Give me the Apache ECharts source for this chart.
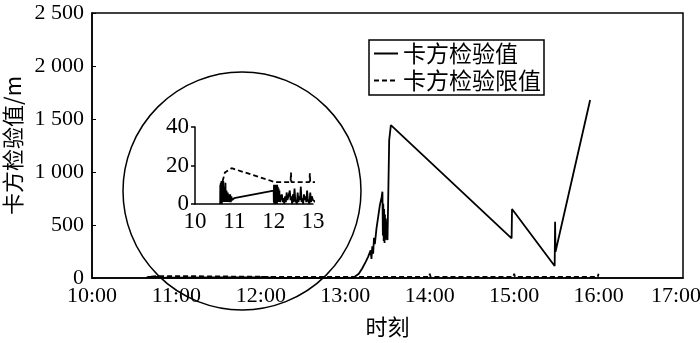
<!DOCTYPE html>
<html><head><meta charset="utf-8">
<script src="https://cdn.jsdelivr.net/npm/echarts@6/dist/echarts.min.js"></script>
<style>html,body{margin:0;padding:0;background:#fff}#c{width:700px;height:343px}</style>
</head><body><div id="c"></div>
<script>
const seriesNames = ['卡方检验值', '卡方检验限值'];
const xAxisName = '时刻';
const yAxisName = '卡方检验值/m';
const mainXLabels = ['10:00','11:00','12:00','13:00','14:00','15:00','16:00','17:00'];
const mainYLabels = ['0','500','1 000','1 500','2 000','2 500'];
const insetXLabels = ['10','11','12','13'];
const insetYLabels = ['0','20','40'];

// times in decimal hours
// segment 1: 10:38 - 11:00 burst
const seg1Hours = [10.640,10.643,10.646,10.649,10.652,10.655,10.658,10.661,10.664,10.667,10.670,10.673,10.676,10.679,10.682,10.685,10.688,10.691,10.694,10.697,
  10.700,10.704,10.708,10.712,10.716,10.720,10.725,10.730,10.735,10.740,10.745,10.750,10.756,10.762,10.768,10.774,10.780,10.787,10.794,10.801,
  10.808,10.816,10.824,10.832,10.840,10.850,10.860,10.870,10.880,10.895,10.910,10.925,10.940,10.960,10.980,10.995];
const seg1Values = [0,10,1,9,0,11,2,8,1,10,3,12,2,7,0,9,2,6,1,11,
  3,8,1,10,2,12,3,7,1,6,2,9,1,5,2,11,3,6,1,7,
  2,5,1,6,2,5,1,4,2,5,1,4,2,3,1,3];
// segment 2: 12:00 - 12:10 burst
const seg2Hours = [12.000,12.004,12.008,12.012,12.016,12.020,12.024,12.028,12.032,12.036,12.040,12.044,12.048,12.052,12.056,12.060,12.064,12.068,12.072,12.076,
  12.080,12.084,12.088,12.092,12.096,12.100,12.105,12.110,12.115,12.120,12.125,12.130,12.135,12.140,12.145,12.150,12.155,12.160];
const seg2Values = [7,1,10,0,9,2,10,1,8,0,10,2,9,1,10,0,8,2,10,1,
  9,0,10,3,8,1,9,2,7,1,8,2,6,1,7,2,5,1];
// segment 3: 12:10 - 13:07 low values
const seg3Hours = [12.19,12.21,12.23,12.25,12.27,12.29,12.31,12.33,12.35,12.37,12.39,12.41,12.43,12.45,12.47,12.49,12.51,12.53,12.55,12.57,12.59,
  12.61,12.63,12.65,12.67,12.69,12.71,12.73,12.75,12.77,12.79,12.81,12.83,12.85,12.87,12.89,12.91,12.93,12.95,12.97,
  13.00,13.03,13.06,13.10,13.12];
const seg3Values = [2,5,1,3,0,4,1,6,2,3,1,7,2,4,0,5,1,8,2,3,0,
  6,1,4,2,9,1,3,0,5,2,4,1,7,2,3,0,6,1,4,
  2,3,1,5,12];
// segment 4: 13:07 - 16:00 main rise and fall
const seg4Hours = [13.16,13.20,13.24,13.27,13.30,13.31,13.32,13.33,13.34,13.35,13.37,13.39,13.41,13.43,13.44,
  13.445,13.45,13.455,13.46,13.465,13.47,13.475,13.48,13.49,13.50,13.52,13.54,
  14.97,14.975,15.48,15.485,15.49,15.90];
const seg4Values = [40,90,150,200,260,180,300,230,380,320,470,580,690,760,814,
  400,700,350,650,330,600,360,560,380,358,1302,1443,
  374,651,113,531,248,1679];

const limitHours = [10.70,10.76,10.93,12.03,12.43,12.44,12.45,12.91,12.92,12.93,13.99,14.00,14.01,14.99,15.00,15.01,15.99,16.00];
const limitValues = [11.7,16.4,18.6,11.4,11.4,16.4,11.4,11.4,16.0,11.4,11.4,40,11.4,11.4,40,11.4,11.4,40];

const solidHours = [].concat(seg1Hours, seg2Hours, seg3Hours, seg4Hours);
const solidValues = [].concat(seg1Values, seg2Values, seg3Values, seg4Values);
const solidData = solidHours.map((h, i) => [h, solidValues[i]]);
const limitData = limitHours.map((h, i) => [h, limitValues[i]]);

const serif = 'Liberation Serif';
const cjk = 'Noto Sans CJK SC';
const chart = echarts.init(document.getElementById('c'));
const solidStyle = { color: '#000', width: 1.8, type: 'solid' };
const dashStyle = { color: '#000', width: 1.8, type: [5, 3] };

chart.setOption({
  animation: false,
  backgroundColor: '#fff',
  legend: {
    data: seriesNames,
    orient: 'vertical',
    left: 369, top: 40,
    padding: [2, 3, 3, 4],
    itemGap: 4,
    itemWidth: 24, itemHeight: 10,
    borderColor: '#000', borderWidth: 1.5,
    itemStyle: { opacity: 0 },
    textStyle: { fontFamily: cjk, fontSize: 23, color: '#000' }
  },
  grid: [
    { left: 92, right: 17, top: 13, bottom: 65, show: true, borderColor: '#000', borderWidth: 1.5, backgroundColor: 'transparent', containLabel: false, outerBoundsMode: 'none' },
    { left: 195, width: 118, top: 127, height: 77, containLabel: false, outerBoundsMode: 'none' }
  ],
  xAxis: [
    {
      gridIndex: 0, type: 'value', min: 10, max: 17, interval: 1,
      name: xAxisName, nameLocation: 'middle', nameGap: 38,
      nameTextStyle: { fontFamily: cjk, fontSize: 22, color: '#000' },
      axisLine: { lineStyle: { color: '#000', width: 1.5 } },
      axisTick: { show: false },
      splitLine: { show: false },
      axisLabel: {
        fontFamily: serif, fontSize: 22, color: '#000', margin: 7,
        formatter: v => {
          const i = Math.round(v - 10);
          return i === mainXLabels.length - 1 ? '{last|' + mainXLabels[i] + '}' : mainXLabels[i];
        },
        rich: { last: { fontFamily: serif, fontSize: 22, color: '#000', padding: [0, 14, 0, 0] } }
      }
    },
    {
      gridIndex: 1, type: 'value', min: 10, max: 13, interval: 1,
      axisLine: { lineStyle: { color: '#000', width: 1.5 } },
      axisTick: { show: false },
      splitLine: { show: false },
      axisLabel: { fontFamily: serif, fontSize: 23, color: '#000', margin: 6, formatter: v => insetXLabels[Math.round(v - 10)] }
    }
  ],
  yAxis: [
    {
      gridIndex: 0, type: 'value', min: 0, max: 2500, interval: 500,
      name: yAxisName, nameLocation: 'middle', nameGap: 65,
      nameTextStyle: { fontFamily: cjk, fontSize: 22, color: '#000' },
      axisLine: { show: true, lineStyle: { color: '#000', width: 1.5 } },
      axisTick: { show: true, inside: true, length: 4, lineStyle: { color: '#000' } },
      splitLine: { show: false },
      axisLabel: { fontFamily: serif, fontSize: 22, color: '#000', margin: 8, formatter: v => mainYLabels[Math.round(v / 500)] }
    },
    {
      gridIndex: 1, type: 'value', min: 0, max: 40, interval: 20,
      axisLine: { show: true, lineStyle: { color: '#000', width: 1.5 } },
      axisTick: { show: true, length: 4, lineStyle: { color: '#000', width: 1.5 } },
      splitLine: { show: false },
      axisLabel: { fontFamily: serif, fontSize: 23, color: '#000', margin: 6, formatter: v => insetYLabels[Math.round(v / 20)] }
    }
  ],
  graphic: [
    { type: 'circle', shape: { cx: 242, cy: 191, r: 119 }, style: { fill: 'none', stroke: '#000', lineWidth: 1.5 }, z: 10 }
  ],
  series: [
    { name: seriesNames[0], type: 'line', xAxisIndex: 0, yAxisIndex: 0, data: solidData, symbol: 'none', showSymbol: false, lineStyle: solidStyle, itemStyle: { color: '#000' }, z: 3 },
    { name: seriesNames[1], type: 'line', xAxisIndex: 0, yAxisIndex: 0, data: limitData, symbol: 'none', showSymbol: false, lineStyle: dashStyle, itemStyle: { color: '#000' }, z: 2 },
    { name: seriesNames[0], type: 'line', xAxisIndex: 1, yAxisIndex: 1, data: solidData, symbol: 'none', showSymbol: false, lineStyle: solidStyle, itemStyle: { color: '#000' }, z: 3 },
    { name: seriesNames[1], type: 'line', xAxisIndex: 1, yAxisIndex: 1, data: limitData, symbol: 'none', showSymbol: false, lineStyle: dashStyle, itemStyle: { color: '#000' }, z: 2 }
  ]
});
</script>
</body></html>
